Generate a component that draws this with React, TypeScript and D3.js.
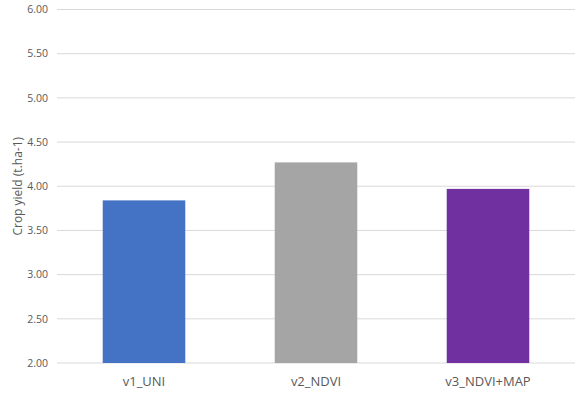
import React from 'react';
import * as d3 from 'd3';

const categories = ['v1_UNI', 'v2_NDVI', 'v3_NDVI+MAP'];
const yields = [3.84, 4.27, 3.97];
const barColors = ['#4472C4', '#A5A5A5', '#7030A0'];
const yTicks = [2, 2.5, 3, 3.5, 4, 4.5, 5, 5.5, 6];

const WIDTH = 579;
const HEIGHT = 393;
const margin = { top: 9.5, right: 5, bottom: 30, left: 58 };

const font = '"Open Sans", "Noto Sans", sans-serif';

export default function App() {
  const x = d3
    .scaleBand()
    .domain(categories)
    .range([margin.left, WIDTH - margin.right])
    .paddingInner(0.52)
    .paddingOuter(0.26);

  const y = d3
    .scaleLinear()
    .domain([2, 6])
    .range([HEIGHT - margin.bottom, margin.top]);

  return (
    <svg
      width={WIDTH}
      height={HEIGHT}
      style={{ position: 'absolute', left: 0, top: 0, background: '#fff' }}
    >
      {/* grid + y ticks */}
      <g className="y-axis">
        {yTicks.map((t, i) => (
          <g key={i} transform={`translate(0,${y(t)})`}>
            <line x1={57} x2={WIDTH - 4} stroke="#D9D9D9" strokeWidth={1} />
            <text
              x={48}
              dy="0.35em"
              fontSize={10.5}
              fontFamily={font}
              fill="#595959"
              textAnchor="end"
            >
              {t.toFixed(2)}
            </text>
          </g>
        ))}
      </g>

      {/* bars */}
      {categories.map((c, i) => (
        <rect
          key={c}
          x={x(c)}
          y={y(yields[i])}
          width={x.bandwidth()}
          height={y(2) - y(yields[i])}
          fill={barColors[i]}
        />
      ))}

      {/* x labels */}
      {categories.map(c => (
        <text
          key={c}
          x={(x(c) || 0) + x.bandwidth() / 2}
          y={386}
          fontSize={13}
          fontFamily={font}
          fill="#595959"
          textAnchor="middle"
        >
          {c}
        </text>
      ))}

      {/* y title */}
      <text
        transform={`translate(22,${(y(2) + y(6)) / 2}) rotate(-90)`}
        fontSize={12}
        fontFamily={font}
        fill="#595959"
        textAnchor="middle"
      >
        Crop yield (t.ha-1)
      </text>
    </svg>
  );
}
